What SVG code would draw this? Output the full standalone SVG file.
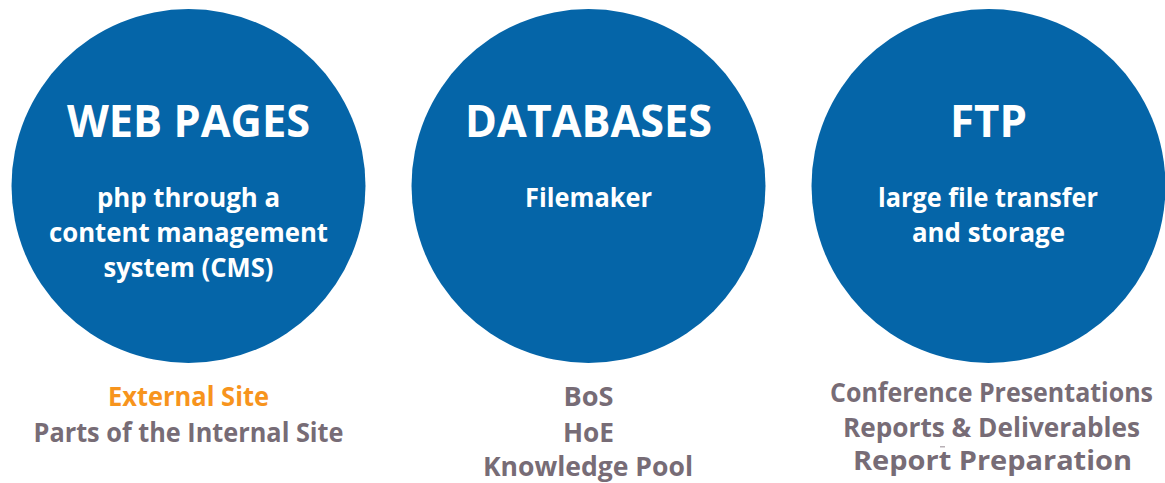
<svg xmlns="http://www.w3.org/2000/svg" width="1165" height="483" viewBox="0 0 1165 483">
  <style>
    .disc { fill: #0565a8; }
    text { font-family: "Open Sans", "Liberation Sans", sans-serif; font-weight: bold; text-anchor: middle; }
    .title { fill: #ffffff; font-size: 44px; }
    .sub { fill: #ffffff; font-size: 27px; }
    .item { fill: #776c76; font-size: 26px; }
    .accent { fill: #f7941d; }
  </style>
  <rect width="1165" height="483" fill="#ffffff"/>

  <g id="web-pages">
    <circle class="disc" cx="188.5" cy="186" r="177"/>
    <text class="title" x="188.5" y="137" textLength="243" lengthAdjust="spacingAndGlyphs">WEB PAGES</text>
    <text class="sub" x="188.5" y="207" textLength="183" lengthAdjust="spacingAndGlyphs">php through a</text>
    <text class="sub" x="188.5" y="242" textLength="279" lengthAdjust="spacingAndGlyphs">content management</text>
    <text class="sub" x="188.5" y="277" textLength="170" lengthAdjust="spacingAndGlyphs">system (CMS)</text>
    <text class="item accent" x="188.5" y="406" textLength="161" lengthAdjust="spacingAndGlyphs">External Site</text>
    <text class="item" x="188.5" y="442" textLength="310" lengthAdjust="spacingAndGlyphs">Parts of the Internal Site</text>
  </g>

  <g id="databases">
    <circle class="disc" cx="588.5" cy="186" r="177"/>
    <text class="title" x="588.5" y="137" textLength="247" lengthAdjust="spacingAndGlyphs">DATABASES</text>
    <text class="sub" x="588.5" y="207" textLength="127" lengthAdjust="spacingAndGlyphs">Filemaker</text>
    <text class="item" x="588.5" y="406" textLength="50" lengthAdjust="spacingAndGlyphs">BoS</text>
    <text class="item" x="588.5" y="442" textLength="51" lengthAdjust="spacingAndGlyphs">HoE</text>
    <text class="item" x="588" y="476" textLength="210" lengthAdjust="spacingAndGlyphs">Knowledge Pool</text>
  </g>

  <g id="ftp">
    <circle class="disc" cx="988.5" cy="186" r="177"/>
    <text class="title" x="988.5" y="137" textLength="77" lengthAdjust="spacingAndGlyphs">FTP</text>
    <text class="sub" x="988" y="207" textLength="220" lengthAdjust="spacingAndGlyphs">large file transfer</text>
    <text class="sub" x="988.5" y="242" textLength="153" lengthAdjust="spacingAndGlyphs">and storage</text>
    <text class="item" x="991.5" y="402" textLength="323" lengthAdjust="spacingAndGlyphs">Conference Presentations</text>
    <text class="item" x="991.5" y="437" textLength="297" lengthAdjust="spacingAndGlyphs">Reports &amp; Deliverables</text>
    <rect x="940" y="446" width="5" height="1.5" fill="#b8b0b6"/>
    <text class="item" x="992.5" y="470" textLength="279" lengthAdjust="spacingAndGlyphs">Report Preparation</text>
  </g>

  <g id="connectors"/>
</svg>
